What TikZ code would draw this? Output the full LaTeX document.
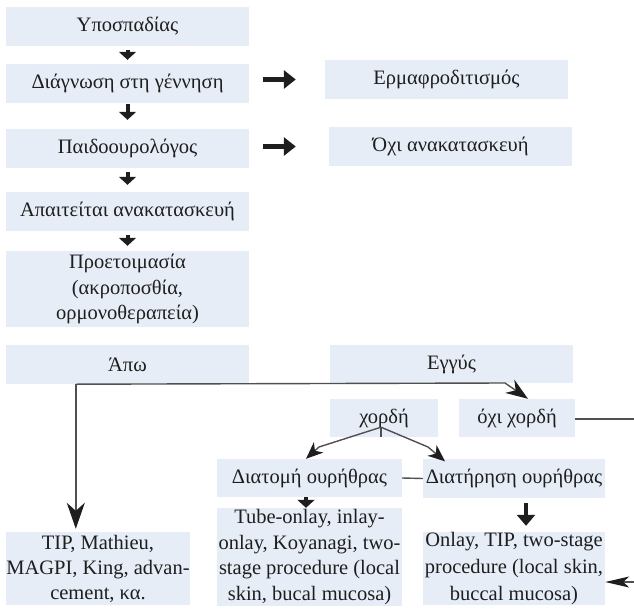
\documentclass[tikz,border=0pt]{standalone}
\usepackage{fontspec}
\setmainfont{Liberation Serif}
\usetikzlibrary{arrows.meta}
\definecolor{boxfill}{RGB}{230,237,246}
\definecolor{ink}{RGB}{30,30,30}
\definecolor{wire}{RGB}{80,80,80}
\begin{document}
\begin{tikzpicture}[x=1pt,y=-1pt,
  box/.style={fill=boxfill, inner sep=0pt, align=center, text=ink, font=\fontsize{20.5}{26}\selectfont},
  fat/.style={draw=ink, line width=4pt, -{Triangle[length=8pt,width=17pt]}},
  fatr/.style={draw=ink, line width=4.5pt, -{Triangle[length=12pt,width=18pt]}},
  conn/.style={draw=wire, line width=1.4pt, -{Stealth[length=22pt,width=16pt,inset=7pt,color=ink]}},
  connbig/.style={draw=wire, line width=1.4pt, -{Stealth[length=26pt,width=18pt,inset=8pt,color=ink]}},
  connsmall/.style={draw=wire, line width=1.4pt, -{Stealth[length=17pt,width=14pt,inset=5pt,color=ink]}},
  connedge/.style={draw=wire, line width=1.4pt, -{Stealth[length=24pt,width=11pt,inset=6pt,color=ink]}},
  plainline/.style={draw=wire, line width=1.4pt}]
\useasboundingbox (0,0) rectangle (634,610);

% left column
\node[box, minimum width=243pt, minimum height=39pt] (b1) at (127.5,26.5) {Υποσπαδίας};
\node[box, minimum width=243pt, minimum height=39pt] (b2) at (127.5,83.5) {Διάγνωση στη γέννηση};
\node[box, minimum width=243pt, minimum height=39pt] (b3) at (127.5,148.5) {Παιδοουρολόγος};
\node[box, minimum width=243pt, minimum height=39pt] (b4) at (127.5,211.5) {Απαιτείται ανακατασκευή};
\node[box, minimum width=243pt, minimum height=76pt, font=\fontsize{20.5}{25.5}\selectfont] (b5) at (127.5,289) {Προετοιμασία\\(ακροποσθία,\\ορμονοθεραπεία)};
\node[box, minimum width=243pt, minimum height=39pt] (b6) at (127.5,364.5) {Άπω};

% right column
\node[box, minimum width=243pt, minimum height=39pt] (r1) at (446.5,79.5) {Ερμαφροδιτισμός};
\node[box, minimum width=243pt, minimum height=39pt] (r2) at (450.5,146.5) {Όχι ανακατασκευή};
\node[box, minimum width=243pt, minimum height=38pt] (e) at (451.5,364) {Εγγύς};
\node[box, minimum width=108pt, minimum height=38pt] (c) at (384,418) {χορδή};
\node[box, minimum width=116pt, minimum height=38pt] (nc) at (517,418) {όχι χορδή};
\node[box, minimum width=185pt, minimum height=38pt] (d1) at (309.5,478) {Διατομή ουρήθρας};
\node[box, minimum width=182pt, minimum height=39pt] (d2) at (514,478.5) {Διατήρηση ουρήθρας};

% bottom row
\node[box, minimum width=184pt, minimum height=73pt, font=\fontsize{20.5}{25}\selectfont] (t1) at (98,568.5) {TIP, Mathieu,\\MAGPI, King, advan-\\cement, κα.};
\node[box, minimum width=185pt, minimum height=98pt, font=\fontsize{20.5}{25.7}\selectfont] (t2) at (309.5,557) {Tube-onlay, inlay-\\onlay, Koyanagi, two-\\stage procedure (local\\skin, bucal mucosa)};
\node[box, minimum width=182pt, minimum height=73pt, font=\fontsize{20.5}{27}\selectfont] (t3) at (514,568.5) {Onlay, TIP, two-stage\\procedure (local skin,\\buccal mucosa)};

% left column arrows
\draw[fat, shorten <=4pt, shorten >=4pt] (b1) -- (b2);
\draw[fat, shorten <=1pt, shorten >=9pt] (b2) -- (b3);
\draw[fat, shorten <=4pt, shorten >=7pt] (b3) -- (b4);
\draw[fat, shorten <=4pt, shorten >=5pt] (b4) -- (b5);

% right arrows
\draw[fatr, shorten <=14pt, shorten >=29pt] (b2.east |- r1.west) -- (r1.west);
\draw[fatr, shorten <=14pt, shorten >=33pt] (b3.east |- r2.west) -- (r2.west);

% distal / proximal connectors
\coordinate (a1) at ([xshift=70pt]b6.south west);
\coordinate (a2) at (505,383);
\draw[connbig, shorten >=3pt] (a1) -- (a1 |- t1.north);
\draw[conn] (a1) -- (a2) -- ([xshift=11pt]nc.north);

% chordee branches
\coordinate (j) at ([xshift=-3pt,yshift=10pt]c.south);
\coordinate (jl) at (319,447);
\coordinate (jr) at (428,447);
\draw[plainline] ([xshift=-3pt]c.south) -- (j);
\draw[connsmall] (j) -- (jl) -- ([xshift=-3.5pt]d1.north);
\draw[connsmall, shorten >=-4pt] (j) -- (jr) -- ([xshift=-72pt]d2.north);

% between urethra boxes
\draw[plainline] (d1.east) -- (d2.west);

% down arrows
\draw[fat, shorten <=0pt, shorten >=0pt] ([xshift=-3.5pt]d1.south) -- ([xshift=-3.5pt]t2.north);
\draw[draw=ink, line width=4pt, -{Triangle[length=11pt,width=18pt]}, shorten <=5pt, shorten >=6pt] ([xshift=12pt]d2.south) -- ([xshift=12pt]t3.north);

% no chordee, around the right edge
\coordinate (o1) at (648,419);
\coordinate (o2) at (648,582);
\draw[connedge] (nc.east |- o1) -- (o1) -- (o2) -- (t3.east |- o2);

\end{tikzpicture}
\end{document}
